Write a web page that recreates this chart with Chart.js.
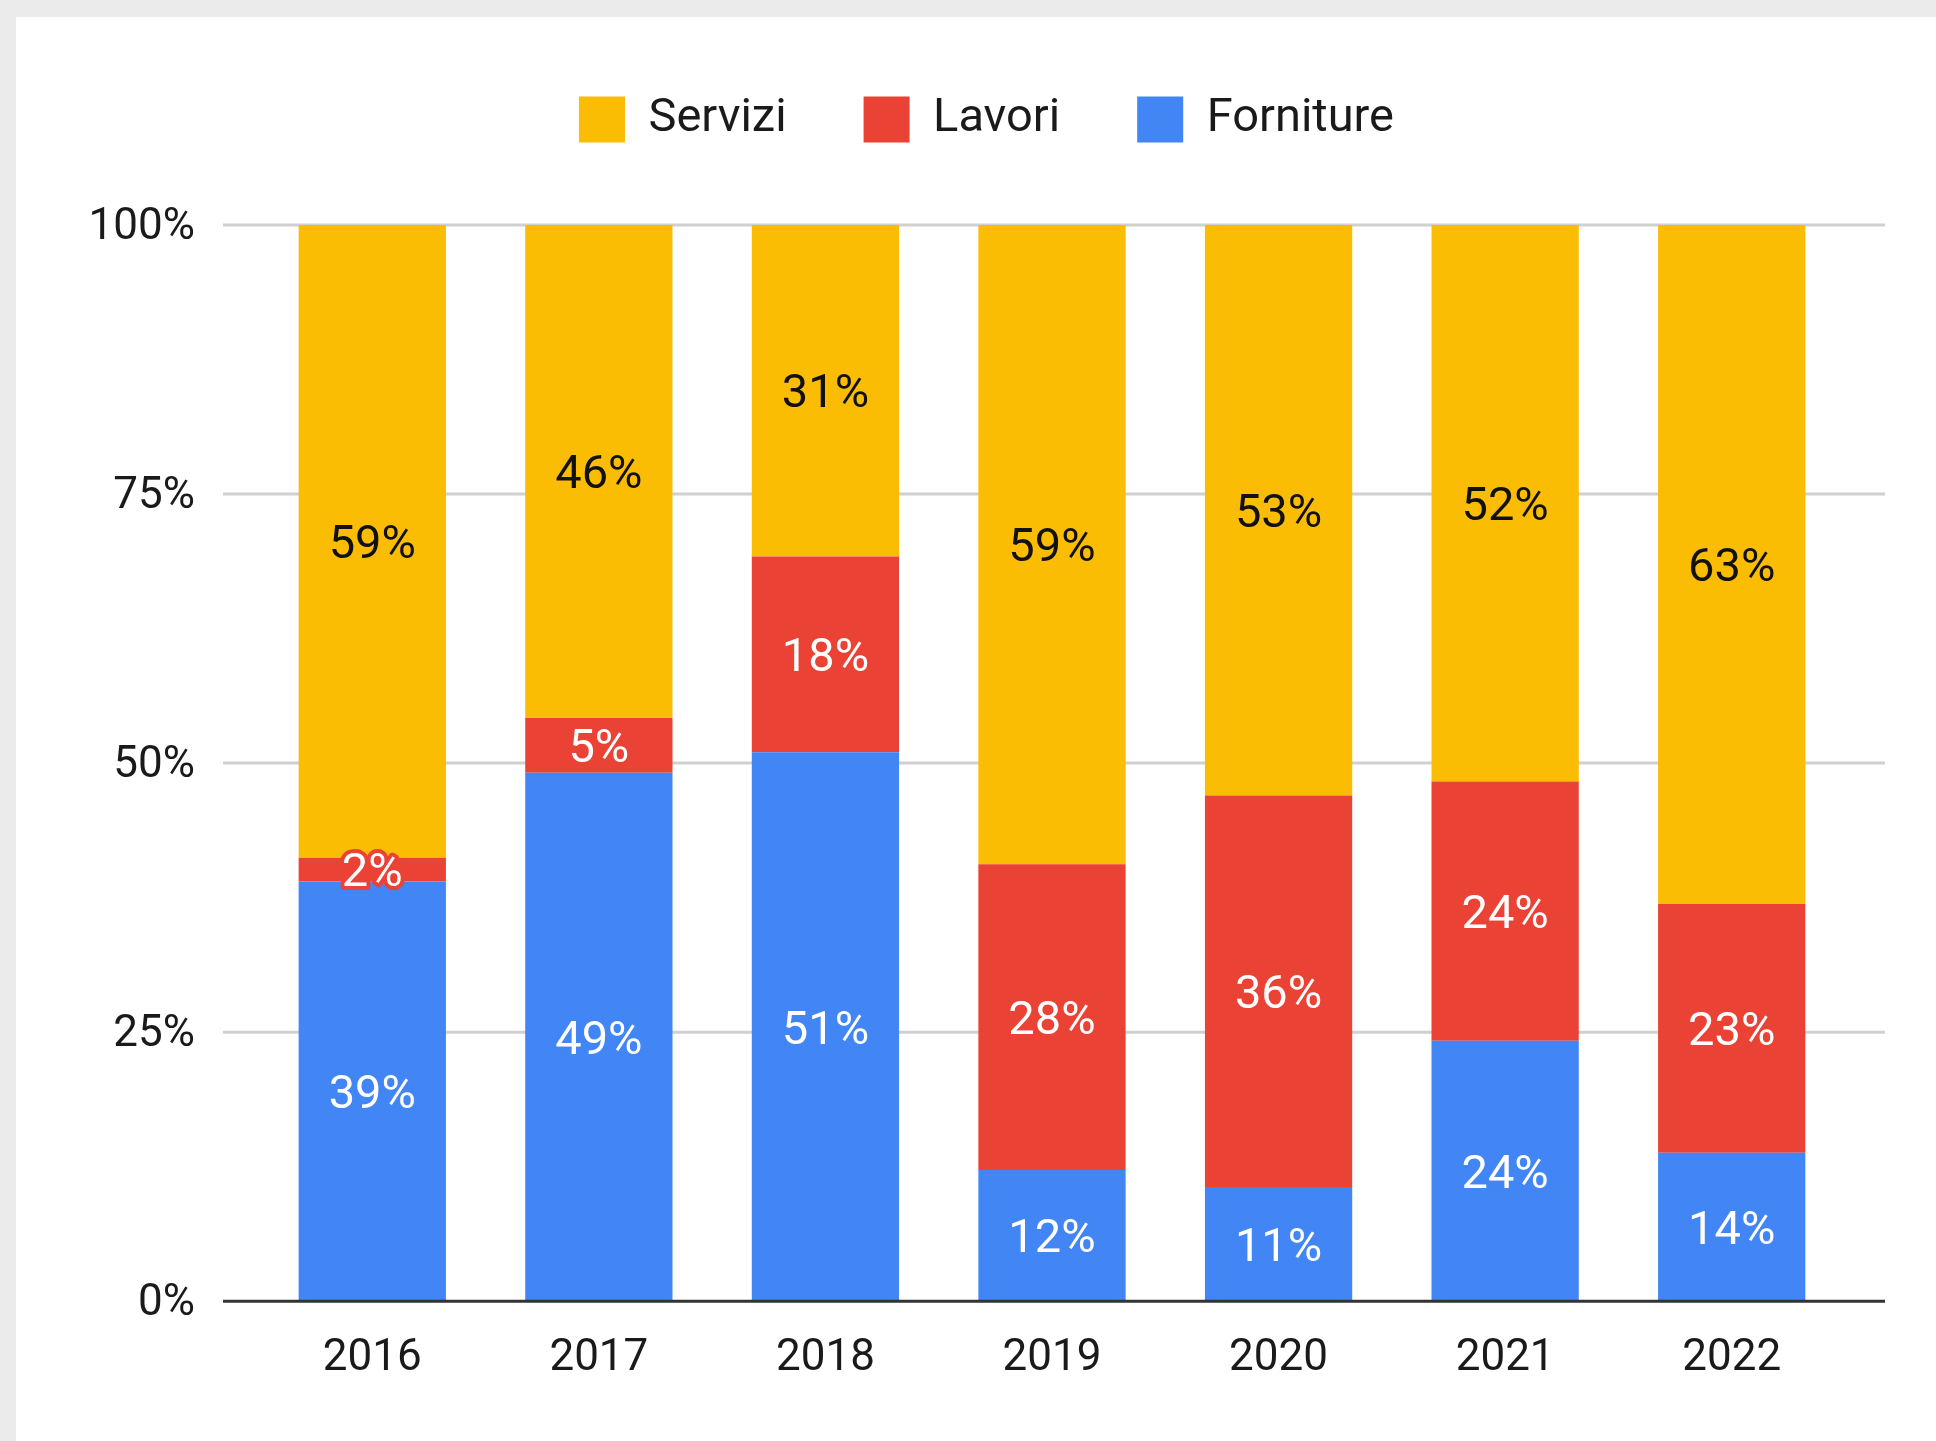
<!DOCTYPE html>
<html lang="it">
<head>
<meta charset="utf-8">
<title>Servizi, Lavori, Forniture</title>
<script src="https://cdn.jsdelivr.net/npm/chart.js@4"></script>
<style>
    body { margin: 0; background: #ebebeb; }
    #pannello { position: absolute; left: 16px; top: 17px; width: 1920px; height: 1424px; background: #fff; }
</style>
</head>
<body>
<div id="pannello">
    <canvas id="graficaAppalti" width="1920" height="1424"></canvas>
</div>
<script>
const anni = ["2016", "2017", "2018", "2019", "2020", "2021", "2022"];
const servizi = [58.8, 45.8, 30.8, 59.4, 53.0, 51.7, 63.1];
const lavori = [2.2, 5.1, 18.2, 28.4, 36.4, 24.1, 23.1];
const forniture = [39.0, 49.1, 51.0, 12.2, 10.6, 24.2, 13.8];
const tickPercentuali = [0, 25, 50, 75, 100];

const GIALLO = "#fbbc04";
const ROSSO = "#ea4335";
const BLU = "#4285f4";

document.addEventListener("DOMContentLoaded", iniciarGrafica);

function iniciarGrafica() {

    const canvas = document.getElementById("graficaAppalti");

    if (!canvas) return;

    const ctx = canvas.getContext("2d");

    Chart.defaults.font.family = "Roboto";
    Chart.defaults.font.size = 44;
    Chart.defaults.color = "#1a1a1a";

    // griglia ed etichette dell'asse y più larghe dell'area dei dati, come nell'originale
    const griglia = {
        id: "griglia",
        beforeDatasetsDraw(chart) {
            const y = chart.scales.y;
            const area = chart.chartArea;
            const c = chart.ctx;
            c.save();
            c.strokeStyle = "#d0d0d0";
            c.lineWidth = 3;
            c.font = "44px Roboto";
            c.fillStyle = "#1a1a1a";
            c.textAlign = "right";
            c.textBaseline = "middle";
            tickPercentuali.forEach(function (v) {
                const py = y.getPixelForValue(v);
                c.fillText(v + "%", area.left - 64, py + 3);
                if (v === 0) return;
                c.beginPath();
                c.moveTo(area.left - 36, py);
                c.lineTo(area.right + 40, py);
                c.stroke();
            });
            c.restore();
        },
        afterDatasetsDraw(chart) {
            const y = chart.scales.y;
            const area = chart.chartArea;
            const c = chart.ctx;
            const py = y.getPixelForValue(0);
            c.save();
            c.strokeStyle = "#333333";
            c.lineWidth = 3;
            c.beginPath();
            c.moveTo(area.left - 36, py);
            c.lineTo(area.right + 40, py);
            c.stroke();
            c.restore();
        }
    };

    const etichette = {
        id: "etichette",
        afterDatasetsDraw(chart) {
            const c = chart.ctx;
            c.save();
            c.font = "47px Roboto";
            c.textAlign = "center";
            c.textBaseline = "middle";
            c.lineJoin = "round";
            chart.data.datasets.forEach(function (ds, i) {
                const meta = chart.getDatasetMeta(i);
                meta.data.forEach(function (bar, j) {
                    const testo = Math.round(ds.data[j]) + "%";
                    const cy = (bar.y + bar.base) / 2 + 5;
                    c.strokeStyle = ds.backgroundColor;
                    c.lineWidth = 8;
                    c.strokeText(testo, bar.x, cy);
                    c.fillStyle = ds.coloreTesto;
                    c.fillText(testo, bar.x, cy);
                });
            });
            c.restore();
        }
    };

    const spazioLegenda = {
        id: "spazioLegenda",
        beforeInit(chart) {
            const fitOriginale = chart.legend.fit;
            chart.legend.fit = function () {
                fitOriginale.bind(chart.legend)();
                this.height += 72;
            };
        }
    };

    const datiAppalti = {
        labels: anni,
        datasets: [
            { label: "Forniture", data: forniture, backgroundColor: BLU, coloreTesto: "#ffffff" },
            { label: "Lavori", data: lavori, backgroundColor: ROSSO, coloreTesto: "#ffffff" },
            { label: "Servizi", data: servizi, backgroundColor: GIALLO, coloreTesto: "#111111" }
        ]
    };

    const opzioni = {
        responsive: false,
        animation: false,
        layout: {
            padding: { top: 2, left: 112, right: 91, bottom: 25 }
        },
        datasets: {
            bar: { barPercentage: 0.65, categoryPercentage: 1 }
        },
        plugins: {
            legend: {
                position: "top",
                reverse: true,
                labels: {
                    boxWidth: 46,
                    boxHeight: 46,
                    padding: 77,
                    color: "#1a1a1a",
                    font: { size: 47 }
                }
            },
            tooltip: { enabled: false }
        },
        scales: {
            x: {
                stacked: true,
                grid: { display: false, drawTicks: false },
                border: { display: false },
                ticks: { padding: 31, color: "#1a1a1a" }
            },
            y: {
                stacked: true,
                min: 0,
                max: 100,
                afterFit(scale) {
                    scale.width = 131;
                },
                grid: { display: false, drawTicks: false },
                border: { display: false },
                ticks: { display: false, stepSize: 25 }
            }
        }
    };

    new Chart(ctx, {
        type: "bar",
        data: datiAppalti,
        options: opzioni,
        plugins: [griglia, etichette, spazioLegenda]
    });

}
</script>
</body>
</html>
